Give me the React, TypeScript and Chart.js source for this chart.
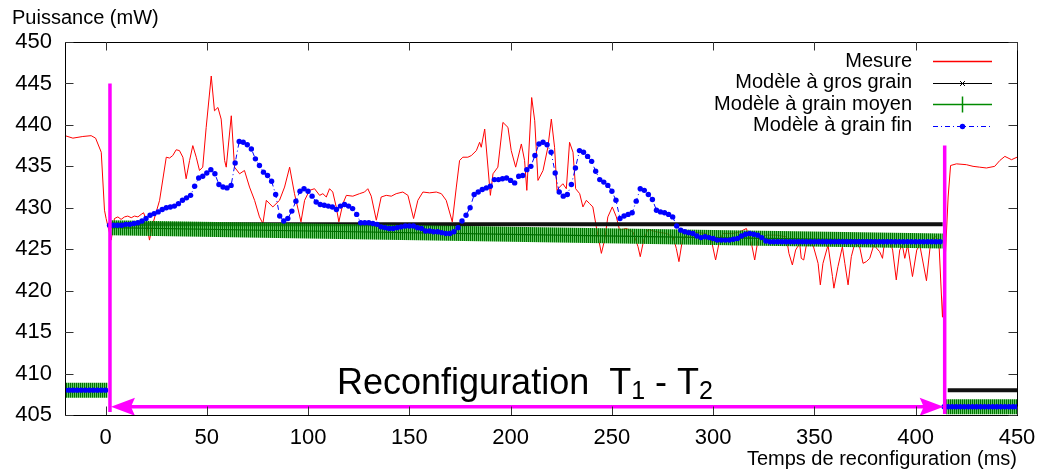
import React, { useEffect, useRef } from 'react';
import { Chart, registerables } from 'chart.js';

Chart.register(...registerables);

const FONT = "'Liberation Sans', Arial, Helvetica, sans-serif";

const xTicks = [0, 50, 100, 150, 200, 250, 300, 350, 400, 450];
const yTicks = [405, 410, 415, 420, 425, 430, 435, 440, 445, 450];

const legendLabels = ['Mesure', 'Modèle à gros grain', 'Modèle à grain moyen', 'Modèle à grain fin'];
const yTitle = 'Puissance (mW)';
const xTitle = 'Temps de reconfiguration (ms)';

// Mesure (red) : time (ms), power (mW)
const redTimes = [
  -20, -16.1, -11.2, -7.1, -4.9, -2.1, -0.5, 0.3, 2.8, 4.4, 6.1, 7.7, 9.4, 11.0, 12.7, 14.3, 16.0, 17.6, 18.8, 20.1, 21.7, 23.4,
  26.7, 30.0, 31.6, 33.2, 34.9, 36.5, 38.2, 39.8, 41.5, 43.1, 44.8, 46.4, 48.0, 49.7, 52.2, 53.8, 55.5, 57.1, 58.8, 59.6, 62.1, 63.7, 66.2, 68.6, 71.1, 73.6, 76.0, 77.7, 79.4, 82.6, 85.9, 88.4, 90.9, 93.3, 96.5,
  98.3, 100.7, 103.2, 105.7, 107.3, 109.0, 110.6, 112.2, 113.9, 115.2, 117.2, 118.9, 122.1, 125.4, 127.9, 129.5, 131.2, 133.7, 136.1, 138.6, 141.1, 143.5, 146.8, 149.3, 152.1, 154.2, 156.7, 160.0, 163.3, 165.8, 168.2, 171.2,
  173.2, 174.8, 176.4, 178.9, 180.6, 183.1, 184.7, 185.5, 187.2, 190.0, 191.3, 193.7, 196.2, 198.7, 200.3, 202.5, 205.3, 206.9, 208.0,
  210.4, 211.9, 213.5, 216.0, 218.4, 220.1, 221.7, 222.9, 224.2, 225.8, 227.5, 229.1, 230.8, 232.1, 234.1, 235.7, 237.4, 239.0, 240.6, 242.3, 244.8, 246.4, 248.0, 250.2, 252.2, 253.8,
  257.1, 260.4, 262.9, 264.0, 265.7, 267.8, 271.9, 276.9, 280.2, 281.8, 283.1, 284.8, 288.4, 296.6, 299.1, 301.2, 303.2, 304.8, 309.8, 313.1, 316.4, 318.9, 320.5, 322.1,
  326.3, 331.2, 336.1, 337.4, 339.1, 340.7, 342.7, 343.5, 344.7, 346.0, 349.3, 351.8, 352.9, 354.2, 356.7, 358.9, 359.6, 361.6, 363.8, 365.0, 366.6, 368.2, 369.9, 372.3, 374.0, 375.6, 377.3, 379.3, 382.2, 383.6, 384.7,
  387.2, 388.6, 390.4, 392.1, 393.4, 394.6, 396.0, 398.4, 400.5, 402.0, 405.3, 407.2, 409.4, 411.4, 413.2, 414.6, 416.0, 417.2, 420.1, 425.0, 428.3, 431.6, 434.9, 439.0, 441.5, 444.0, 447.3, 450.0,
];
const redValues = [
  438.7, 438.4, 438.6, 438.7, 438.4, 436.7, 429.7, 428.7, 426.1, 428.7, 428.9, 428.6, 428.9, 429.0, 428.8, 429.0, 428.9, 429.2, 429.4, 428.5, 426.1, 428.1,
  430.9, 436.1, 436.0, 436.3, 437.0, 436.9, 436.1, 433.5, 435.7, 437.5, 436.1, 434.5, 434.9, 439.7, 445.9, 441.7, 442.1, 440.7, 435.7, 434.9, 441.1, 434.9, 434.1, 434.5, 432.5, 430.9, 428.9, 428.1, 430.9, 430.1, 430.9, 432.5, 434.9, 431.7, 428.3,
  430.9, 432.1, 432.3, 431.5, 431.7, 431.3, 432.3, 431.9, 430.1, 428.3, 430.5, 431.5, 431.4, 431.7, 431.9, 432.3, 431.4, 428.5, 431.3, 431.5, 431.4, 431.7, 431.9, 431.5, 428.7, 430.9, 431.9, 431.8, 431.9, 431.7, 430.9, 428.3,
  432.5, 435.7, 436.1, 436.1, 436.3, 436.9, 437.9, 437.3, 439.5, 431.5, 434.1, 434.9, 440.3, 439.7, 436.9, 434.9, 437.7, 435.7, 432.1,
  443.3, 440.5, 433.3, 434.5, 437.3, 440.7, 437.3, 432.1, 432.5, 432.9, 432.3, 437.9, 436.7, 432.3, 431.7, 430.1, 430.9, 430.5, 430.1, 427.7, 424.5, 426.1, 428.9, 430.1, 428.9, 427.3,
  427.5, 427.1, 425.3, 424.1, 426.1, 427.4, 427.1, 426.9, 426.5, 425.1, 423.5, 426.1, 427.1, 426.9, 426.1, 423.7, 426.1, 426.9, 426.9, 427.1, 427.5, 425.7, 423.7, 426.1,
  426.7, 426.7, 426.5, 424.5, 423.1, 424.9, 425.7, 423.9, 423.7, 425.5, 425.5, 423.3, 420.7, 423.3, 425.5, 421.7, 420.3, 422.9, 425.3, 423.3, 420.7, 424.1, 425.7, 425.3, 423.3, 423.5, 423.9, 425.5, 424.7, 423.9, 426.1,
  426.1, 424.9, 421.3, 424.9, 425.5, 423.9, 425.5, 421.7, 424.9, 425.5, 421.2, 425.5, 426.6, 426.1, 416.8, 424.0, 431.3, 435.1, 435.3, 435.2, 435.0, 434.9, 434.8, 435.0, 435.7, 436.2, 435.8, 436.1,
];

// Modèle à gros grain (black), null = break
const coarseTimes = [-20, 1, 1.5, 2, 413.3, 413.8, 415.8, 450];
const coarseValues = [408, 408, null, 428, 428, null, 408, 408];

// Modèle à grain moyen (green), null = break
const mediumTimes = [-20, 1, 1.5, 2, 100, 200, 300, 413.3, 413.8, 415, 450];
const mediumValues = [408, 408, null, 427.6, 427.2, 426.8, 426.4, 426.0, null, 406, 406];

// Modèle à grain fin (blue), one sample every 2 ms from -20 ms
const fineStart = -20;
const fineStep = 2;
const fineValues = [
  408, 408, 408, 408, 408, 408, 408, 408, 408, 408, 408,
  427.9, 427.9, 427.9, 427.9, 428.0, 428.0, 428.1, 428.2, 428.4, 428.7,
  429.1, 429.3, 429.5, 429.8, 430.0, 430.1, 430.2, 430.5, 430.9, 431.2,
  431.5, 432.6, 433.6, 433.8, 434.2, 434.6, 434.1, 432.8, 432.5, 432.4,
  432.7, 435.4, 438.0, 437.9, 437.6, 437.1, 435.9, 435.1, 434.3, 433.9,
  433.2, 431.6, 429.0, 428.4, 428.7, 429.6, 430.8, 432.0, 432.3, 432.0,
  431.4, 430.7, 430.4, 430.3, 430.2, 430.1, 429.8, 430.2, 430.4, 430.2,
  429.9, 429.2, 428.2, 428.2, 428.2, 428.1, 428.0, 427.7, 427.6, 427.5,
  427.5, 427.6, 427.7, 427.8, 427.8, 427.8, 427.6, 427.5, 427.2, 427.2,
  427.1, 427.1, 427.0, 426.9, 426.9, 427.1, 427.6, 428.4, 429.1, 430.0,
  431.6, 431.9, 432.2, 432.4, 432.6, 433.4, 433.4, 433.5, 433.6, 433.3,
  433.0, 433.8, 433.9, 434.6, 435.0, 436.3, 437.7, 437.9, 437.6, 436.7,
  434.2, 431.9, 431.4, 431.6, 432.8, 434.8, 436.9, 436.7, 436.2, 435.6,
  434.4, 433.4, 433.1, 432.7, 432.0, 430.9, 428.7, 429.0, 429.2, 429.4,
  430.8, 432.3, 432.1, 431.6, 431.0, 429.7, 429.5, 429.4, 429.2, 428.9,
  427.8, 427.3, 427.1, 427.0, 426.9, 426.6, 426.4, 426.5, 426.4, 426.3,
  426.1, 426.1, 426.1, 426.1, 426.2, 426.3, 426.6, 426.8, 426.9, 426.8,
  426.7, 426.4, 426.0, 425.9,
  425.9, 425.9, 425.9, 425.9, 425.9, 425.9, 425.9, 425.9, 425.9, 425.9,
  425.9, 425.9, 425.9, 425.9, 425.9, 425.9, 425.9, 425.9, 425.9, 425.9,
  425.9, 425.9, 425.9, 425.9, 425.9, 425.9, 425.9, 425.9, 425.9, 425.9,
  425.9, 425.9, 425.9, 425.9, 425.9, 425.9, 425.9, 425.9, 425.9, 425.9,
  425.9, 425.9,
  406, 406, 406, 406, 406, 406, 406, 406, 406, 406,
  406, 406, 406, 406, 406, 406, 406, 406, 406,
];

// Reconfiguration annotation (ms / mW)
const reconfStart = 2.2;
const reconfEnd = 414.3;
const startMarkerTop = 445;
const endMarkerTop = 437.5;
const arrowLevel = 406;

const MAGENTA = '#ff00ff';
const RED = '#ff0000';
const GREEN = '#008a00';
const BLUE = '#0000ff';

const overlayPlugin = {
  id: 'overlay',
  afterDatasetsDraw(chart: any) {
    const { ctx, chartArea: a, scales } = chart;
    const x = scales.x;
    const y = scales.y;
    ctx.save();
    const xs = x.getPixelForValue(reconfStart);
    const xe = x.getPixelForValue(reconfEnd);
    const ya = y.getPixelForValue(arrowLevel);
    ctx.strokeStyle = MAGENTA;
    ctx.fillStyle = MAGENTA;
    ctx.lineWidth = 3.5;
    ctx.beginPath();
    ctx.moveTo(xs, a.bottom - 3);
    ctx.lineTo(xs, y.getPixelForValue(startMarkerTop));
    ctx.moveTo(xe, a.bottom - 1);
    ctx.lineTo(xe, y.getPixelForValue(endMarkerTop));
    ctx.stroke();
    ctx.beginPath();
    ctx.moveTo(xs + 18, ya);
    ctx.lineTo(xe - 18, ya);
    ctx.stroke();
    const hl = 24, hw = 9, notch = 20;
    ctx.beginPath();
    ctx.moveTo(xs + 1, ya);
    ctx.lineTo(xs + 1 + hl, ya - hw);
    ctx.lineTo(xs + 1 + notch, ya);
    ctx.lineTo(xs + 1 + hl, ya + hw);
    ctx.closePath();
    ctx.fill();
    ctx.beginPath();
    ctx.moveTo(xe - 1, ya);
    ctx.lineTo(xe - 1 - hl, ya - hw);
    ctx.lineTo(xe - 1 - notch, ya);
    ctx.lineTo(xe - 1 - hl, ya + hw);
    ctx.closePath();
    ctx.fill();
    ctx.restore();
  },
  afterDraw(chart: any) {
    const { ctx, chartArea: a, scales } = chart;
    const x = scales.x;
    const y = scales.y;
    ctx.save();
    // border
    ctx.strokeStyle = '#000';
    ctx.lineWidth = 1;
    ctx.strokeRect(a.left + 0.5, a.top + 0.5, a.right - a.left, a.bottom - a.top);
    // inward ticks on all four sides
    const tl = 8.5;
    ctx.strokeStyle = '#333';
    ctx.beginPath();
    for (const v of xTicks) {
      const px = Math.round(x.getPixelForValue(v)) + 0.5;
      ctx.moveTo(px, a.bottom);
      ctx.lineTo(px, a.bottom - tl);
      ctx.moveTo(px, a.top);
      ctx.lineTo(px, a.top + tl);
    }
    for (const v of yTicks) {
      const py = Math.round(y.getPixelForValue(v)) + 0.5;
      ctx.moveTo(a.left, py);
      ctx.lineTo(a.left + tl, py);
      ctx.moveTo(a.right, py);
      ctx.lineTo(a.right - tl, py);
    }
    ctx.stroke();

    // y title
    ctx.fillStyle = '#000';
    ctx.font = `20px ${FONT}`;
    ctx.textAlign = 'left';
    ctx.textBaseline = 'middle';
    ctx.fillText(yTitle, 12, 18);

    // legend
    const tx = a.right - 105;
    const s0 = a.right - 84;
    const s1 = a.right - 25;
    const sc = (s0 + s1) / 2;
    ctx.textAlign = 'right';
    legendLabels.forEach((lab, i) => {
      const ry = a.top + 19 + i * 21.6;
      ctx.fillStyle = '#000';
      ctx.fillText(lab, tx, ry);
      const ly = Math.round(ry) + 0.5;
      ctx.setLineDash([]);
      if (i === 0) {
        ctx.strokeStyle = RED;
        ctx.lineWidth = 1.5;
        ctx.beginPath(); ctx.moveTo(s0, ly); ctx.lineTo(s1, ly); ctx.stroke();
      } else if (i === 1) {
        ctx.strokeStyle = '#000';
        ctx.lineWidth = 1;
        ctx.beginPath(); ctx.moveTo(s0, ly); ctx.lineTo(s1, ly); ctx.stroke();
        ctx.beginPath();
        ctx.moveTo(sc - 2.5, ly - 2.5); ctx.lineTo(sc + 2.5, ly + 2.5);
        ctx.moveTo(sc - 2.5, ly + 2.5); ctx.lineTo(sc + 2.5, ly - 2.5);
        ctx.stroke();
      } else if (i === 2) {
        ctx.strokeStyle = GREEN;
        ctx.lineWidth = 1.5;
        ctx.beginPath(); ctx.moveTo(s0, ly); ctx.lineTo(s1, ly); ctx.stroke();
        ctx.beginPath();
        ctx.moveTo(sc, ly - 8); ctx.lineTo(sc, ly + 8);
        ctx.stroke();
      } else {
        ctx.strokeStyle = BLUE;
        ctx.lineWidth = 1;
        ctx.setLineDash([5, 3, 1, 3]);
        ctx.beginPath(); ctx.moveTo(s0, ly); ctx.lineTo(s1, ly); ctx.stroke();
        ctx.setLineDash([]);
        ctx.fillStyle = BLUE;
        ctx.beginPath(); ctx.arc(sc, ly, 2.7, 0, Math.PI * 2); ctx.fill();
      }
    });

    // Reconfiguration T1 - T2
    const parts = [
      { t: 'Reconfiguration  T', s: 36, dy: 0 },
      { t: '1', s: 25, dy: 5 },
      { t: ' - T', s: 36, dy: 0 },
      { t: '2', s: 25, dy: 5 },
    ];
    let total = 0;
    const widths = parts.map((p) => {
      ctx.font = `${p.s}px ${FONT}`;
      const w = ctx.measureText(p.t).width;
      total += w;
      return w;
    });
    let cx = 525 - total / 2;
    ctx.fillStyle = '#000';
    ctx.textAlign = 'left';
    ctx.textBaseline = 'alphabetic';
    parts.forEach((p, i) => {
      ctx.font = `${p.s}px ${FONT}`;
      ctx.fillText(p.t, cx, 394 + p.dy);
      cx += widths[i];
    });
    ctx.restore();
  },
};

export default function App() {
  const ref = useRef<HTMLCanvasElement>(null);
  useEffect(() => {
    const canvas = ref.current as HTMLCanvasElement;
    const c2d = canvas.getContext('2d') as CanvasRenderingContext2D;
    const pc = document.createElement('canvas');
    pc.width = 2;
    pc.height = 1;
    const pctx = pc.getContext('2d') as CanvasRenderingContext2D;
    pctx.fillStyle = 'rgba(40,175,40,0.7)';
    pctx.fillRect(0, 0, 2, 1);
    pctx.fillStyle = '#007400';
    pctx.fillRect(0, 0, 1, 1);
    const stripe = c2d.createPattern(pc, 'repeat') as CanvasPattern;

    const red = redTimes.map((t, i) => ({ x: t, y: redValues[i] }));
    const coarse = coarseTimes.map((t, i) => ({ x: t, y: coarseValues[i] }));
    const medium = mediumTimes.map((t, i) => ({ x: t, y: mediumValues[i] }));
    const fine = fineValues.map((v, i) => ({ x: fineStart + i * fineStep, y: v }));

    const tickFont = { family: FONT, size: 22 };
    const chart = new Chart(canvas, {
      type: 'line',
      data: {
        datasets: [
          {
            label: legendLabels[3], data: fine, borderColor: BLUE, borderWidth: 1,
            borderDash: [5, 3, 1, 3], pointRadius: 2.7, pointBackgroundColor: BLUE,
            pointBorderWidth: 0, order: 0, spanGaps: false,
            segment: {
              borderColor: (c: any) => (Math.abs(c.p0.parsed.y - c.p1.parsed.y) > 12 ? 'rgba(0,0,0,0)' : undefined),
            },
          },
          {
            label: 'core', data: medium, borderColor: '#006e00', borderWidth: 1.2,
            pointRadius: 0, order: 1, spanGaps: false,
          },
          {
            label: legendLabels[2], data: medium, borderColor: stripe, borderWidth: 15,
            borderCapStyle: 'butt', pointRadius: 0, order: 2, spanGaps: false,
          },
          {
            label: legendLabels[1], data: coarse, borderColor: '#111', borderWidth: 4,
            pointRadius: 0, order: 3, spanGaps: false,
          },
          {
            label: legendLabels[0], data: red, borderColor: RED, borderWidth: 1,
            pointRadius: 0, order: 4,
          },
        ] as any,
      },
      options: {
        responsive: false,
        animation: false,
        devicePixelRatio: 1,
        events: [],
        layout: { padding: { left: 0, right: 22, top: 42, bottom: 0 } },
        plugins: { legend: { display: false }, tooltip: { enabled: false }, title: { display: false } },
        scales: {
          x: {
            type: 'linear', min: -20, max: 450,
            afterBuildTicks: (s: any) => { s.ticks = xTicks.map((v) => ({ value: v })); },
            afterFit: (s: any) => { s.height = 56; s.paddingLeft = 0; s.paddingRight = 0; },
            grid: { display: false, drawTicks: false },
            border: { display: false },
            ticks: { font: tickFont, color: '#000', padding: 10, maxRotation: 0, autoSkip: false },
            title: { display: true, text: xTitle, align: 'end', font: { family: FONT, size: 20 }, color: '#000', padding: 0 },
          },
          y: {
            type: 'linear', min: 405, max: 450,
            afterBuildTicks: (s: any) => { s.ticks = yTicks.map((v) => ({ value: v })); },
            afterFit: (s: any) => { s.width = 65; s.paddingTop = 0; s.paddingBottom = 0; },
            grid: { display: false, drawTicks: false },
            border: { display: false },
            ticks: { font: tickFont, color: '#000', padding: 13, autoSkip: false },
          },
        },
      } as any,
      plugins: [overlayPlugin],
    });
    return () => chart.destroy();
  }, []);
  return (
    <div style={{ position: 'absolute', left: 0, top: 0, width: 1039, height: 471, background: '#fff' }}>
      <canvas ref={ref} width={1039} height={471} style={{ display: 'block' }} />
    </div>
  );
}
